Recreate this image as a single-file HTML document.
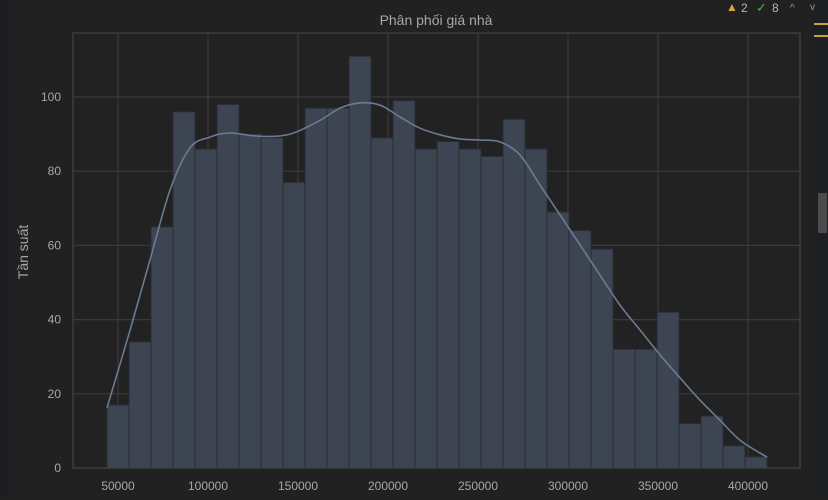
<!DOCTYPE html>
<html><head><meta charset="utf-8"><style>
body{margin:0;background:#212121;width:828px;height:495px;overflow:hidden;font-family:"Liberation Sans","DejaVu Sans",sans-serif}
svg text{font-family:"Liberation Sans","DejaVu Sans",sans-serif}
</style></head><body>
<svg id="c" width="828" height="495" xmlns="http://www.w3.org/2000/svg">
<rect x="0" y="0" width="828" height="495" fill="#212121"/>
<rect x="0" y="0" width="8" height="495" fill="#1c1d20"/>
<rect x="810" y="0" width="18" height="495" fill="#1e1f22"/>
<rect x="818" y="193" width="9" height="40" fill="#4b4b4b"/>
<rect x="814" y="23" width="14" height="2" fill="#c9a03a"/>
<rect x="814" y="35" width="14" height="2" fill="#c9a03a"/>
<g>
<text x="726" y="11" font-size="12" fill="#d4a53a">▲</text>
<text x="741" y="12" font-size="12" fill="#a9b7c6">2</text>
<text x="756" y="12" font-size="13" fill="#5fa55a">✓</text>
<text x="772" y="12" font-size="12" fill="#a9b7c6">8</text>
<text x="790" y="11" font-size="10" fill="#999">^</text>
<text x="810" y="10" font-size="10" fill="#999">v</text>
</g>
<g id="grid"></g><g id="bars"></g><g id="kde"></g><g id="axes"></g>
<text x="436" y="25" font-size="14" fill="#a8a8a8" text-anchor="middle">Phân phối giá nhà</text>
<text transform="translate(28,252) rotate(-90)" font-size="14" fill="#a8a8a8" text-anchor="middle">Tần suất</text>
</svg>
<script>
const binStart = 43900;
const binWidth = 12223;
const counts = [17,34,65,96,86,98,90,89,77,97,97,111,89,99,86,88,86,84,94,86,69,64,59,32,32,42,12,14,6,3];
const kdeX = [43900,56700,67800,78900,90000,101100,112200,128900,145600,162200,173300,184400,195600,206700,217800,228900,240000,251100,262200,273300,284400,295600,306700,317800,328900,340000,351100,362200,373300,384400,395600,410600];
const kdeY = [16.2,37.2,56.1,74.9,86.3,89.2,90.3,89.4,90.0,93.7,97.0,98.4,97.8,94.6,91.6,89.8,88.7,88.4,87.9,84.4,76.3,68.2,60.1,52.0,43.9,37.2,30.5,24.3,18.3,12.9,7.5,2.9];
const xTicks = [50000,100000,150000,200000,250000,300000,350000,400000];
const yTicks = [0,20,40,60,80,100];
const L=73,R=800,T=33,B=468;
const xs=v=>118+(v-50000)*630/350000;
const ys=v=>468-v*3.71;
const NS="http://www.w3.org/2000/svg";
function mk(tag,attrs,parent){const e=document.createElementNS(NS,tag);for(const k in attrs)e.setAttribute(k,attrs[k]);document.getElementById(parent).appendChild(e);return e;}
mk('rect',{x:L,y:T,width:R-L,height:B-T,fill:'#222222'},'grid');
xTicks.forEach(t=>{const l=mk('line',{x1:xs(t),x2:xs(t),y1:T,y2:B,stroke:'#3a3a3a','stroke-width':1.2},'grid');


const tx=mk('text',{x:xs(t),y:B+22,'font-size':12,fill:'#a8a8a8','text-anchor':'middle'},'axes');tx.textContent=t;

});
yTicks.forEach(t=>{const l=mk('line',{x1:L,x2:R,y1:ys(t),y2:ys(t),stroke:'#3a3a3a','stroke-width':1.2},'grid');


const tx=mk('text',{x:L-12,y:ys(t)+4,'font-size':12,fill:'#a8a8a8','text-anchor':'end'},'axes');tx.textContent=t;

});
counts.forEach((c,i)=>{const x0=xs(binStart+i*binWidth),x1=xs(binStart+(i+1)*binWidth);
const r=mk('rect',{x:x0,y:ys(c),width:x1-x0,height:ys(0)-ys(c),fill:'#3d4553',stroke:'#2a2d33','stroke-width':1},'bars');

});
const P=kdeX.map((v,i)=>[xs(v),ys(kdeY[i])]);
let d='M'+P[0][0].toFixed(1)+','+P[0][1].toFixed(1);
for(let i=0;i<P.length-1;i++){const p0=P[Math.max(0,i-1)],p1=P[i],p2=P[i+1],p3=P[Math.min(P.length-1,i+2)];
const c1=[p1[0]+(p2[0]-p0[0])/6,p1[1]+(p2[1]-p0[1])/6],c2=[p2[0]-(p3[0]-p1[0])/6,p2[1]-(p3[1]-p1[1])/6];
d+='C'+c1.map(n=>n.toFixed(1)).join(',')+' '+c2.map(n=>n.toFixed(1)).join(',')+' '+p2[0].toFixed(1)+','+p2[1].toFixed(1);}
const p=mk('path',{d:d,fill:'none',stroke:'#6b7b93','stroke-width':1.6,'stroke-linejoin':'round'},'kde');


const f=mk('rect',{x:L,y:T,width:R-L,height:B-T,fill:'none',stroke:'#3c3c3c','stroke-width':1.5},'axes');


</script>
</body></html>
